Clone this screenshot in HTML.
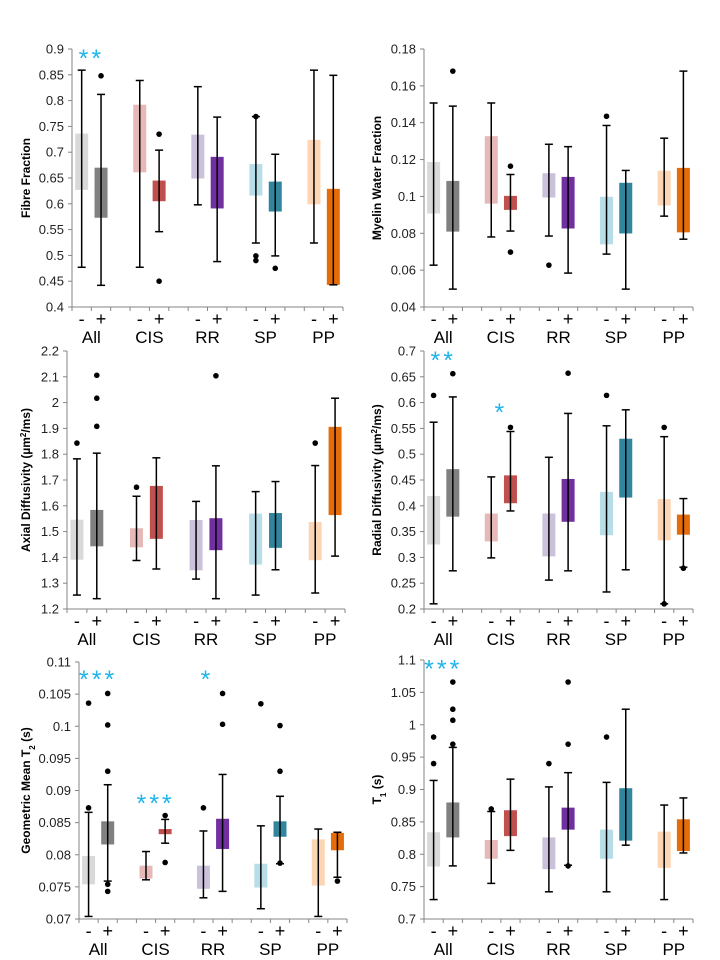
<!DOCTYPE html>
<html><head><meta charset="utf-8">
<style>
html,body{margin:0;padding:0;background:#fff;}
svg{display:block;font-family:"Liberation Sans",sans-serif;}
</style></head>
<body>
<svg id="chart" width="720" height="960" viewBox="0 0 720 960" xmlns="http://www.w3.org/2000/svg"></svg>
<script>
// Series order: All-, All+, CIS-, CIS+, RR-, RR+, SP-, SP+, PP-, PP+
const groups = ["All","CIS","RR","SP","PP"];
const lightColors = ["#d9d9d9","#e6b9b8","#ccc1da","#b7dee8","#fcd5b5"];
const darkColors = ["#808080","#c0504d","#7030a0","#31859c","#e46c0a"];

const fibreQ1 = [0.627,0.573,0.661,0.605,0.649,0.591,0.616,0.585,0.599,0.443];
const fibreQ3 = [0.736,0.670,0.792,0.645,0.734,0.691,0.677,0.643,0.724,0.629];
const fibreLo = [0.477,0.442,0.477,0.546,0.598,0.488,0.524,0.499,0.524,0.443];
const fibreHi = [0.859,0.812,0.839,0.704,0.827,0.768,0.769,0.696,0.859,0.849];
const fibreOut = [[],[0.848],[],[0.735,0.45],[],[],[0.769,0.499,0.49],[0.475],[],[]];
const fibreTicks = [0.4,0.45,0.5,0.55,0.6,0.65,0.7,0.75,0.8,0.85,0.9];
const fibreTickLabels = ["0.4","0.45","0.5","0.55","0.6","0.65","0.7","0.75","0.8","0.85","0.9"];

const mwfQ1 = [0.0907,0.0809,0.0961,0.0927,0.0994,0.0826,0.074,0.0799,0.0951,0.0805];
const mwfQ3 = [0.1187,0.1084,0.1327,0.1003,0.1126,0.1106,0.0998,0.1074,0.1139,0.1155];
const mwfLo = [0.0627,0.0497,0.078,0.0812,0.0785,0.0584,0.0687,0.0497,0.0893,0.0768];
const mwfHi = [0.1507,0.149,0.1507,0.1119,0.1283,0.127,0.1385,0.1141,0.1316,0.168];
const mwfOut = [[],[0.168],[],[0.1164,0.0698],[0.0627],[],[0.1435],[],[],[]];
const mwfTicks = [0.04,0.06,0.08,0.1,0.12,0.14,0.16,0.18];
const mwfTickLabels = ["0.04","0.06","0.08","0.1","0.12","0.14","0.16","0.18"];

const adQ1 = [1.391,1.443,1.439,1.472,1.35,1.428,1.372,1.437,1.389,1.564];
const adQ3 = [1.546,1.584,1.513,1.677,1.545,1.552,1.57,1.572,1.537,1.906];
const adLo = [1.254,1.24,1.388,1.355,1.316,1.24,1.254,1.352,1.262,1.405];
const adHi = [1.782,1.804,1.637,1.786,1.617,1.755,1.655,1.694,1.756,2.017];
const adOut = [[1.843],[2.106,2.017,1.908],[1.672],[],[],[2.104],[],[],[1.843],[]];
const adTicks = [1.2,1.3,1.4,1.5,1.6,1.7,1.8,1.9,2.0,2.1,2.2];
const adTickLabels = ["1.2","1.3","1.4","1.5","1.6","1.7","1.8","1.9","2","2.1","2.2"];

const rdQ1 = [0.325,0.379,0.331,0.405,0.302,0.369,0.343,0.416,0.333,0.344];
const rdQ3 = [0.419,0.471,0.385,0.459,0.385,0.452,0.427,0.53,0.413,0.383];
const rdLo = [0.21,0.274,0.299,0.39,0.256,0.274,0.233,0.276,0.21,0.281];
const rdHi = [0.562,0.611,0.456,0.544,0.494,0.579,0.555,0.586,0.534,0.414];
const rdOut = [[0.614],[0.656],[],[0.552],[],[0.657],[0.614],[],[0.552,0.21],[0.279]];
const rdTicks = [0.2,0.25,0.3,0.35,0.4,0.45,0.5,0.55,0.6,0.65,0.7];
const rdTickLabels = ["0.2","0.25","0.3","0.35","0.4","0.45","0.5","0.55","0.6","0.65","0.7"];

const t2Q1 = [0.0754,0.0816,0.0763,0.0832,0.0747,0.0809,0.0749,0.0828,0.0752,0.0807];
const t2Q3 = [0.0798,0.0852,0.0783,0.0840,0.0783,0.0856,0.0786,0.0852,0.0824,0.0834];
const t2Lo = [0.0704,0.0759,0.0761,0.0818,0.0733,0.0743,0.0716,0.0786,0.0704,0.0765];
const t2Hi = [0.0866,0.0909,0.0805,0.0855,0.0837,0.0925,0.0845,0.0891,0.084,0.0835];
const t2Out = [[0.1036,0.0873],[0.1051,0.1002,0.093,0.0754,0.0743],[],[0.0861,0.0788],[0.0873],[0.1051,0.1003],[0.1035],[0.1001,0.093,0.0787],[],[0.0759]];
const t2Ticks = [0.07,0.075,0.08,0.085,0.09,0.095,0.1,0.105,0.11];
const t2TickLabels = ["0.07","0.075","0.08","0.085","0.09","0.095","0.1","0.105","0.11"];

const t1Q1 = [0.781,0.826,0.793,0.828,0.777,0.838,0.793,0.821,0.779,0.805];
const t1Q3 = [0.834,0.880,0.822,0.868,0.826,0.872,0.838,0.902,0.835,0.854];
const t1Lo = [0.73,0.782,0.755,0.806,0.742,0.783,0.742,0.814,0.73,0.802];
const t1Hi = [0.914,0.965,0.866,0.916,0.904,0.926,0.911,1.024,0.876,0.887];
const t1Out = [[0.981,0.94],[1.066,1.024,1.007,0.97],[0.87],[],[0.94],[1.066,0.97,0.782],[0.981],[],[],[]];
const t1Ticks = [0.7,0.75,0.8,0.85,0.9,0.95,1.0,1.05,1.1];
const t1TickLabels = ["0.7","0.75","0.8","0.85","0.9","0.95","1","1.05","1.1"];

const NS = "http://www.w3.org/2000/svg";
const svg = document.getElementById("chart");
function mk(tag, attrs, parent){
  const e = document.createElementNS(NS, tag);
  for (const k in attrs) e.setAttribute(k, attrs[k]);
  (parent||svg).appendChild(e);
  return e;
}

function panel(cfg){
  const g = mk("g", {});
  
  
  const x0 = cfg.x0, x1 = cfg.x1, yT = cfg.yT, yB = cfg.yB;
  const vmin = cfg.ticks[0], vmax = cfg.ticks[cfg.ticks.length-1];
  const y = v => yB - (v - vmin) / (vmax - vmin) * (yB - yT);
  const s = (x1 - x0) / 14;
  const xc = i => x0 + (3*Math.floor(i/2) + 0.5 + (i%2)) * s;
  const ya = mk("line", {x1:x0, y1:yT, x2:x0, y2:yB, stroke:"#868686", "stroke-width":1}, g);
  
  
  const xa = mk("line", {x1:x0, y1:yB, x2:x1, y2:yB, stroke:"#868686", "stroke-width":1}, g);
  
  
  cfg.ticks.forEach((t, k) => {
    mk("line", {x1:x0-4, y1:y(t), x2:x0, y2:y(t), stroke:"#868686"}, g);
    const tl = mk("text", {x:x0-8, y:y(t)+4.5, "text-anchor":"end", "font-size":13, fill:"#222"}, g);
    tl.textContent = cfg.labels[k];
    
    
  });
  for (let k = 0; k <= 14; k++) {
    mk("line", {x1:x0+k*s, y1:yB, x2:x0+k*s, y2:yB+4, stroke:"#868686"}, g);
  }
  const yc = (yT + yB) / 2;
  const tt = mk("text", {x:cfg.tx, y:yc, transform:`rotate(-90 ${cfg.tx} ${yc})`, "text-anchor":"middle", "font-size":12, "font-weight":"bold", fill:"#000"}, g);
  tt.innerHTML = cfg.title;
  
  
  groups.forEach((gn, i) => {
    const m = mk("text", {x:xc(2*i), y:yB+18, "text-anchor":"middle", "font-size":18, fill:"#000"}, g);
    m.textContent = "-";
    
    
    const p = mk("text", {x:xc(2*i+1), y:yB+18, "text-anchor":"middle", "font-size":18, fill:"#000"}, g);
    p.textContent = "+";
    
    
    const gl = mk("text", {x:(xc(2*i)+xc(2*i+1))/2, y:yB+36, "text-anchor":"middle", "font-size":17, fill:"#000"}, g);
    gl.textContent = gn;
    
    
  });
  const bw = 13;
  for (let i = 0; i < 10; i++) {
    const gi = Math.floor(i/2);
    const col = i%2 ? darkColors[gi] : lightColors[gi];
    const cx = xc(i);
    const b = mk("rect", {x:cx-bw/2, y:y(cfg.q3[i]), width:bw, height:Math.max(1, y(cfg.q1[i]) - y(cfg.q3[i])), fill:col}, g);
    
    
    const w = mk("line", {x1:cx, y1:y(cfg.hi[i]), x2:cx, y2:y(cfg.lo[i]), stroke:"#000", "stroke-width":1.5}, g);
    
    
    mk("line", {x1:cx-4, y1:y(cfg.hi[i]), x2:cx+4, y2:y(cfg.hi[i]), stroke:"#000", "stroke-width":1.5}, g);
    mk("line", {x1:cx-4, y1:y(cfg.lo[i]), x2:cx+4, y2:y(cfg.lo[i]), stroke:"#000", "stroke-width":1.5}, g);
    cfg.out[i].forEach(v => {
      const d = mk("circle", {cx:cx, cy:y(v), r:2.8, fill:"#000"}, g);
      
      
    });
  }
  cfg.stars.forEach(st => {
    const cx = (xc(2*st.g) + xc(2*st.g+1)) / 2 + (st.dx||0);
    const t = mk("text", {x:cx, y:y(st.v)+13, "text-anchor":"middle", "font-size":25, fill:"#1fb4ec", "letter-spacing":"3"}, g);
    t.textContent = st.txt;
    
    
  });
}

panel({name:"fibre-fraction-panel", x0:72, x1:343, yT:49, yB:307, ticks:fibreTicks, labels:fibreTickLabels, tx:30, title:"Fibre Fraction",
  q1:fibreQ1, q3:fibreQ3, lo:fibreLo, hi:fibreHi, out:fibreOut, stars:[{g:0, v:0.89, txt:"**"}]});
panel({name:"myelin-water-fraction-panel", x0:424, x1:693, yT:49, yB:307, ticks:mwfTicks, labels:mwfTickLabels, tx:381, title:"Myelin Water Fraction",
  q1:mwfQ1, q3:mwfQ3, lo:mwfLo, hi:mwfHi, out:mwfOut, stars:[]});
panel({name:"axial-diffusivity-panel", x0:67, x1:345, yT:351, yB:609, ticks:adTicks, labels:adTickLabels, tx:30, title:"Axial Diffusivity  (\u00b5m<tspan baseline-shift='super' font-size='8'>2</tspan>/ms)",
  q1:adQ1, q3:adQ3, lo:adLo, hi:adHi, out:adOut, stars:[]});
panel({name:"radial-diffusivity-panel", x0:424, x1:693, yT:351, yB:609, ticks:rdTicks, labels:rdTickLabels, tx:381, title:"Radial Diffusivity  (\u00b5m<tspan baseline-shift='super' font-size='8'>2</tspan>/ms)",
  q1:rdQ1, q3:rdQ3, lo:rdLo, hi:rdHi, out:rdOut, stars:[{g:0, v:0.69, txt:"**"},{g:1, v:0.59, txt:"*"}]});
panel({name:"geometric-mean-t2-panel", x0:79, x1:347, yT:662, yB:919, ticks:t2Ticks, labels:t2TickLabels, tx:30, title:"Geometric Mean T<tspan baseline-shift='sub' font-size='8'>2</tspan> (s)",
  q1:t2Q1, q3:t2Q3, lo:t2Lo, hi:t2Hi, out:t2Out, stars:[{g:0, v:0.108, txt:"***"},{g:1, v:0.0887, txt:"***"},{g:2, v:0.108, txt:"*", dx:-6}]});
panel({name:"t1-panel", x0:424, x1:693, yT:660, yB:919, ticks:t1Ticks, labels:t1TickLabels, tx:381, title:"T<tspan baseline-shift='sub' font-size='8'>1</tspan> (s)",
  q1:t1Q1, q3:t1Q3, lo:t1Lo, hi:t1Hi, out:t1Out, stars:[{g:0, v:1.093, txt:"***"}]});
</script>
</body></html>
